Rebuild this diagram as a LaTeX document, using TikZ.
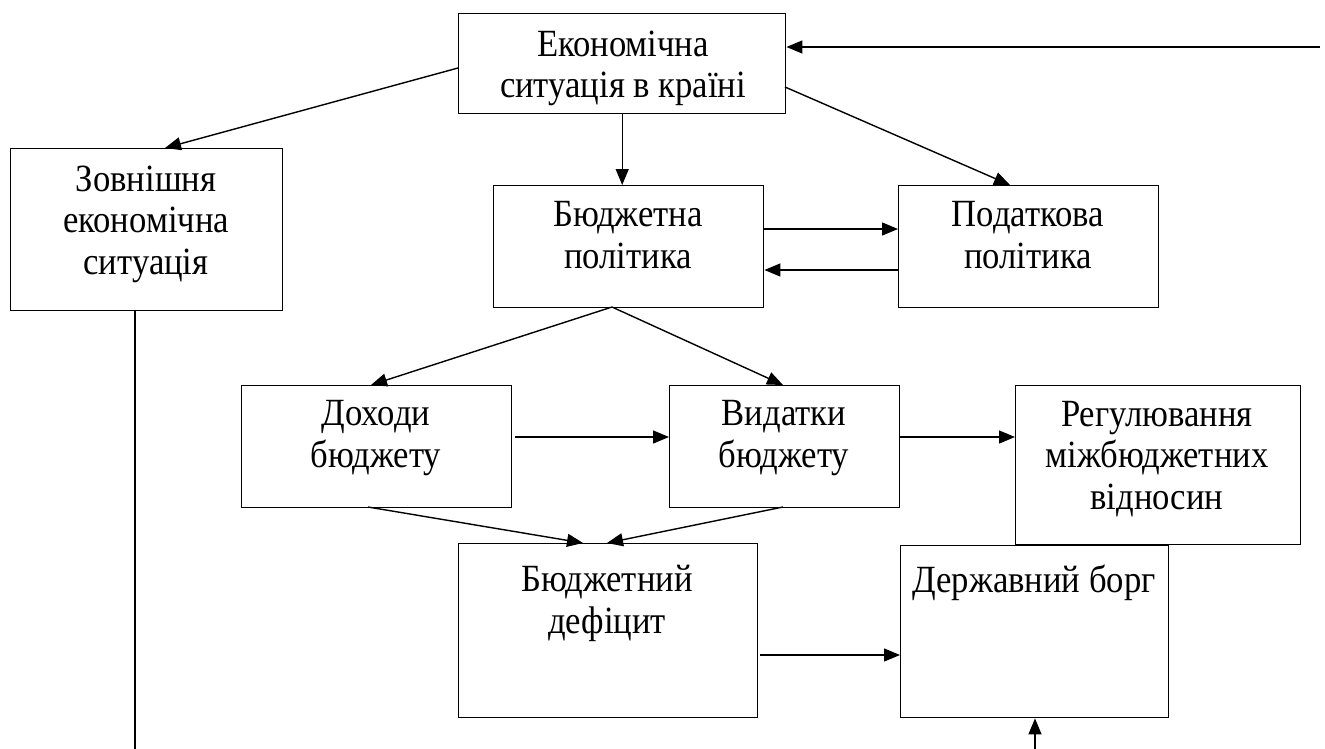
\documentclass[tikz,border=0pt]{standalone}
\usepackage{fontspec}
\setmainfont{Liberation Serif}[FakeStretch=0.9]
\usetikzlibrary{arrows.meta}
\begin{document}
\begin{tikzpicture}[x=1pt,y=-1pt,
  box/.style={draw,line width=1.4pt,inner sep=0pt,anchor=north west},
  lbl/.style={align=center,font=\fontsize{38.5}{41.5}\selectfont,inner sep=0pt,anchor=base},
  arr/.style={line width=1.4pt,-{Triangle[length=16pt,width=13pt]}},
  ln/.style={line width=1.4pt}]
\useasboundingbox (0,0) rectangle (1325,749);
% boxes
\node[box,minimum width=327pt,minimum height=100pt] (ek) at (458,13) {};
\node[box,minimum width=272pt,minimum height=162pt] (zv) at (10,148) {};
\node[box,minimum width=270pt,minimum height=122pt] (bp) at (493,185) {};
\node[box,minimum width=260pt,minimum height=122pt] (pp) at (898,185) {};
\node[box,minimum width=270pt,minimum height=122pt] (dh) at (241,385) {};
\node[box,minimum width=230pt,minimum height=122pt] (vd) at (669,385) {};
\node[box,minimum width=285pt,minimum height=159pt] (rg) at (1015,385) {};
\node[box,minimum width=299pt,minimum height=174pt] (df) at (458,543) {};
\node[box,minimum width=268pt,minimum height=172pt] (db) at (900,545) {};
% texts (base = baseline of last line)
\node[lbl] (tek) at (623,98) {Економічна\\ситуація в країні};
\node[lbl] (tzv) at (146,274) {Зовнішня\\економічна\\ситуація};
\node[lbl] (tbp) at (628,268) {Бюджетна\\політика};
\node[lbl] (tpp) at (1028,268) {Податкова\\політика};
\node[lbl] (tdh) at (376,467) {Доходи\\бюджету};
\node[lbl] (tvd) at (784,467) {Видатки\\бюджету};
\node[lbl] (trg) at (1157,509) {Регулювання\\міжбюджетних\\відносин};
\node[lbl] (tdf) at (607,633) {Бюджетний\\дефіцит};
\node[lbl] (tdb) at (1034,592) {Державний борг};
% coordinates
\coordinate (c1) at (1320,47);
\coordinate (c2) at (135,749);
\coordinate (c3) at (1035,749);
% connectors
\draw[arr] (c1) -- (ek.east |- c1);
\draw[arr] (ek.west |- 0,68) -- (165,148);
\draw[arr] (ek.south) -- (bp.north -| ek.south);
\draw[arr] (785,87) -- (1010,185);
\draw[arr] (bp.east |- 0,229) -- (pp.west |- 0,229);
\draw[arr] (pp.west |- 0,270) -- (bp.east |- 0,270);
\draw[arr] (612,307) -- (371,385);
\draw[arr] (612,307) -- (783,385);
\draw[arr] (515,437) -- (vd.west |- 0,437);
\draw[arr] (vd.east |- 0,437) -- (rg.west |- 0,437);
\draw[arr] (368,507) -- (583,543);
\draw[arr] (783,507) -- (607,543);
\draw[arr] (760,655) -- (db.west |- 0,655);
\draw[ln] (zv.south -| c2) -- (c2);
\draw[arr] (c3) -- (db.south -| c3);
\end{tikzpicture}
\end{document}
